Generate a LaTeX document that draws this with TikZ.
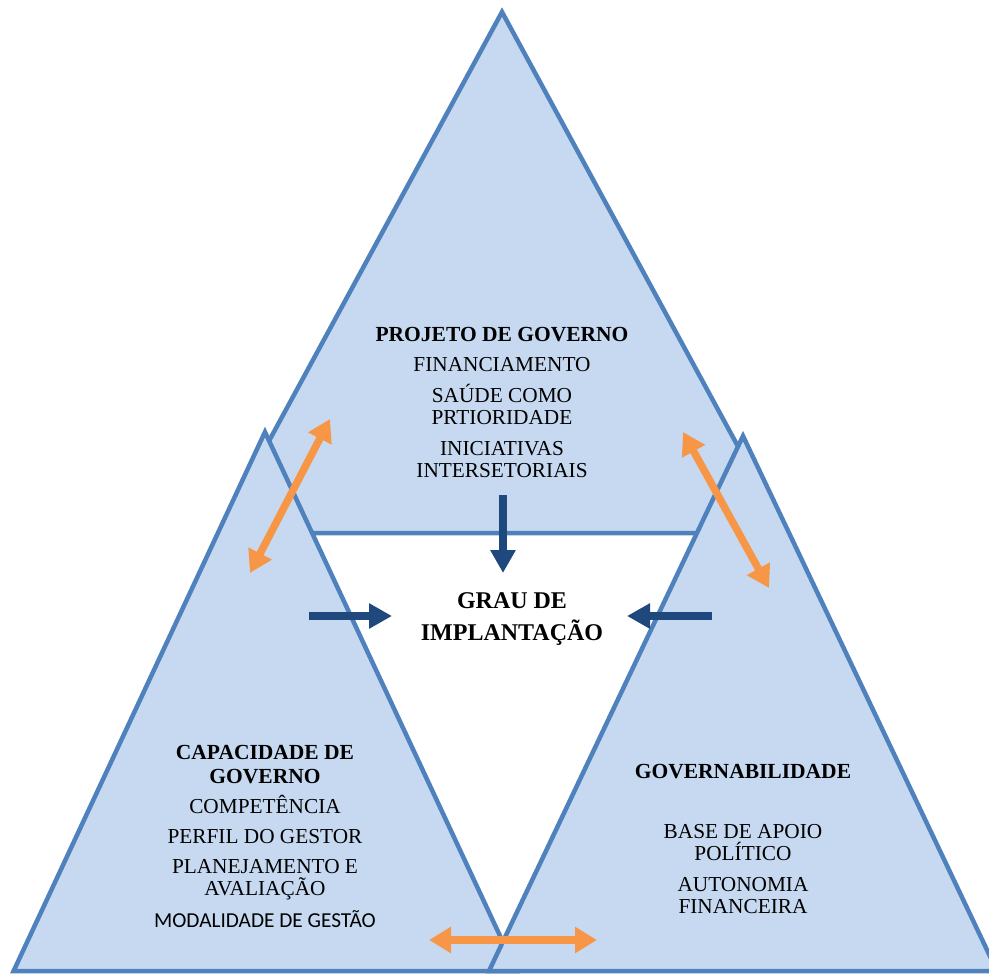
\documentclass[tikz,border=0pt]{standalone}
\usepackage{fontspec}
\setmainfont{Liberation Serif}
\newfontfamily\calibrifont{Carlito}
\usetikzlibrary{arrows.meta}
\definecolor{trifill}{HTML}{C6D9F1}
\definecolor{triedge}{HTML}{4F81BD}
\definecolor{orangearr}{HTML}{F79646}
\definecolor{darkarr}{HTML}{1F497D}
\begin{document}
\begin{tikzpicture}[x=1pt,y=-1pt,
  tri/.style={fill=trifill,draw=triedge,line width=4.5pt},
  oarrow/.style={draw=orangearr,line width=7.5pt,{Triangle[length=22pt,width=25pt]}-{Triangle[length=22pt,width=25pt]}},
  darrow/.style={draw=darkarr,line width=8pt,-{Triangle[length=23pt,width=24pt]}},
  txt/.style={font=\fontsize{21.3}{21.5}\selectfont,align=center,anchor=base,inner sep=0pt},
  btxt/.style={txt,font=\fontsize{21.5}{24}\selectfont\bfseries},
  gtxt/.style={txt,font=\fontsize{24}{32}\selectfont\bfseries}]
\clip (0,0) rectangle (989,974);
% triangles
\draw[tri] (502,12) -- (219,533) -- (785,533) -- cycle;
\draw[tri] (265,432) -- (13.6,971) -- (516.4,971) -- cycle;
\draw[tri] (743,436) -- (489,971) -- (997,971) -- cycle;
% coordinates for arrows
\coordinate (o1a) at (250,573); \coordinate (o1b) at (330,419);
\coordinate (o2a) at (683,432); \coordinate (o2b) at (769,588);
\coordinate (o3a) at (429,940); \coordinate (o3b) at (597,940);
\coordinate (d1a) at (503,495); \coordinate (d1b) at (503,573);
\coordinate (d2a) at (309,616); \coordinate (d2b) at (392,616);
\coordinate (d3a) at (712,616); \coordinate (d3b) at (627,616);
\draw[oarrow] (o1a) -- (o1b);
\draw[oarrow] (o2a) -- (o2b);
\draw[oarrow] (o3a) -- (o3b);
\draw[darrow] (d1a) -- (d1b);
\draw[darrow] (d2a) -- (d2b);
\draw[darrow] (d3a) -- (d3b);
% top texts (anchor = baseline of last line)
\node[btxt] (tp) at (502,341) {PROJETO DE GOVERNO};
\node[txt] (t1) at (502,371) {FINANCIAMENTO};
\node[txt] (t2) at (502,424) {SAÚDE COMO\\PRTIORIDADE};
\node[txt] (t3) at (502,477) {INICIATIVAS\\INTERSETORIAIS};
% center
\node[gtxt] (gr) at (512,640) {GRAU DE\\IMPLANTAÇÃO};
% left
\node[btxt] (lp) at (265,783) {CAPACIDADE DE\\GOVERNO};
\node[txt] (l1) at (265,813) {COMPETÊNCIA};
\node[txt] (l2) at (265,843) {PERFIL DO GESTOR};
\node[txt] (l3) at (265,895) {PLANEJAMENTO E\\AVALIAÇÃO};
\node[txt,font=\fontsize{21.3}{21}\selectfont\calibrifont] (l4) at (265,927) {MODALIDADE DE GESTÃO};
% right
\node[btxt] (rp) at (743,778) {GOVERNABILIDADE};
\node[txt] (r1) at (743,860) {BASE DE APOIO\\POLÍTICO};
\node[txt] (r2) at (743,913) {AUTONOMIA\\FINANCEIRA};
\end{tikzpicture}
\end{document}
